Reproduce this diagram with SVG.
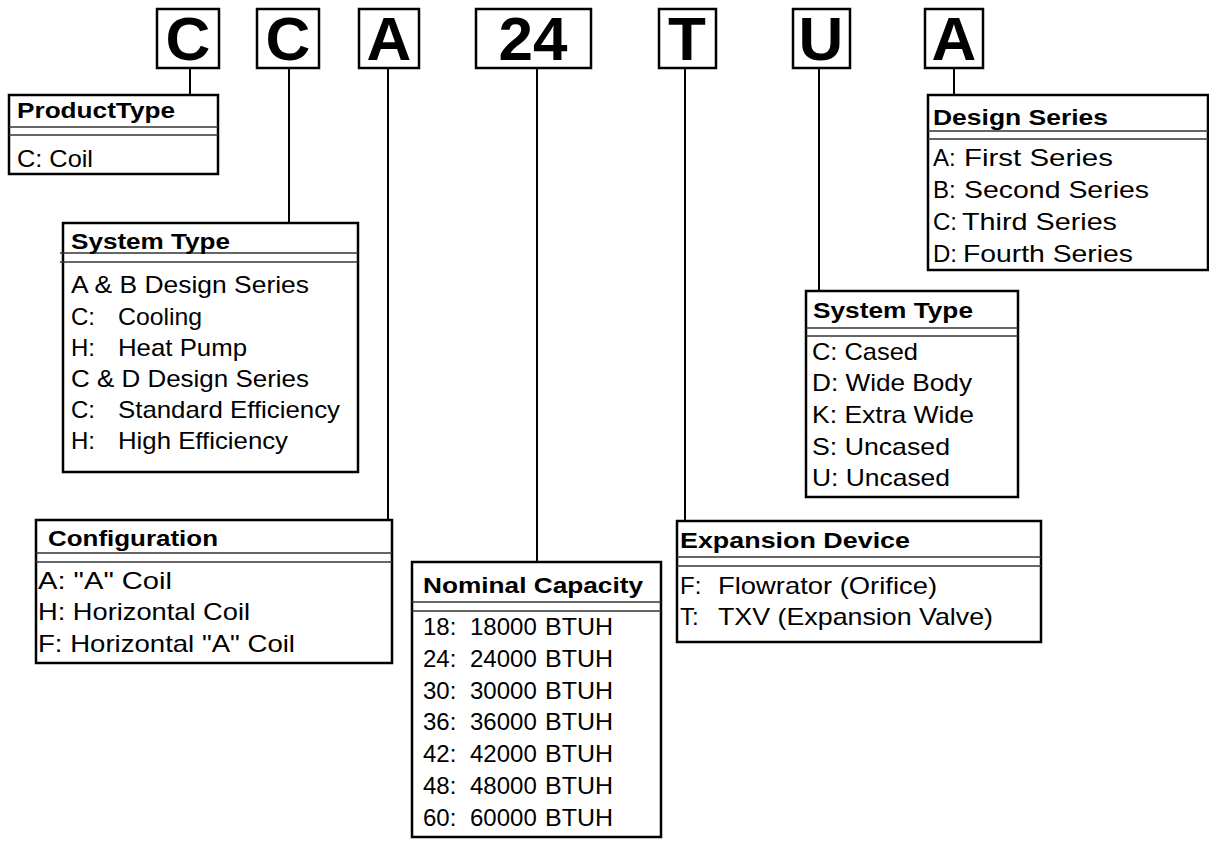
<svg xmlns="http://www.w3.org/2000/svg" width="1209" height="846" viewBox="0 0 1209 846">
<style>
.code{fill:#fff;stroke:#000;stroke-width:2.5}
.codetxt{font-family:"Liberation Sans",Arial,sans-serif;font-weight:bold;font-size:62px;fill:#000;text-anchor:middle}
.box{fill:#fff;stroke:#000;stroke-width:2.5}
.sep{stroke:#333;stroke-width:1.5;fill:none}
.title{font-family:"Liberation Sans",Arial,sans-serif;font-weight:bold;font-size:22px;fill:#000}
.body{font-family:"Liberation Sans",Arial,sans-serif;font-size:24px;fill:#000}
.conn{stroke:#000;stroke-width:2;fill:none}
</style>
<rect width="1209" height="846" fill="#fff"/>
<g id="connectors">
<line class="conn" x1="190" y1="68" x2="190" y2="95"/>
<line class="conn" x1="289" y1="68" x2="289" y2="223"/>
<line class="conn" x1="388" y1="68" x2="388" y2="520"/>
<line class="conn" x1="537" y1="68" x2="537" y2="562"/>
<line class="conn" x1="685" y1="68" x2="685" y2="521"/>
<line class="conn" x1="819" y1="68" x2="819" y2="291"/>
<line class="conn" x1="954" y1="68" x2="954" y2="95"/>
</g>
<g id="code-c1"><rect class="code" x="157" y="9" width="62" height="59"/><text class="codetxt" x="188" y="60">C</text></g>
<g id="code-c2"><rect class="code" x="257" y="9" width="62" height="59"/><text class="codetxt" x="288" y="60">C</text></g>
<g id="code-a1"><rect class="code" x="359" y="9" width="60" height="59"/><text class="codetxt" x="389" y="60">A</text></g>
<g id="code-24"><rect class="code" x="476" y="9" width="115" height="59"/><text class="codetxt" x="533" y="60">24</text></g>
<g id="code-t"><rect class="code" x="659" y="9" width="57" height="59"/><text class="codetxt" x="687" y="60">T</text></g>
<g id="code-u"><rect class="code" x="793" y="9" width="57" height="59"/><text class="codetxt" x="821" y="60">U</text></g>
<g id="code-a2"><rect class="code" x="925" y="9" width="58" height="59"/><text class="codetxt" x="954" y="60">A</text></g>

<g id="product-type">
<rect class="box" x="9" y="95" width="209" height="79"/>
<line class="sep" x1="9" y1="127" x2="218" y2="127"/><line class="sep" x1="9" y1="135" x2="218" y2="135"/>
<text class="title" x="17" y="118" textLength="158" lengthAdjust="spacingAndGlyphs">ProductType</text>
<text class="body" x="17" y="167" textLength="76" lengthAdjust="spacingAndGlyphs">C: Coil</text>
</g>

<g id="system-type-1">
<rect class="box" x="63" y="223" width="295" height="249"/>
<line class="sep" x1="60" y1="253" x2="358" y2="253"/><line class="sep" x1="60" y1="262" x2="358" y2="262"/>
<text class="title" x="71" y="249" textLength="159" lengthAdjust="spacingAndGlyphs">System Type</text>
<text class="body" x="71" y="293" textLength="238" lengthAdjust="spacingAndGlyphs">A &amp; B Design Series</text>
<text class="body" x="71" y="325">C:</text><text class="body" x="118" y="325" textLength="84" lengthAdjust="spacingAndGlyphs">Cooling</text>
<text class="body" x="71" y="356">H:</text><text class="body" x="118" y="356" textLength="129" lengthAdjust="spacingAndGlyphs">Heat Pump</text>
<text class="body" x="71" y="387" textLength="238" lengthAdjust="spacingAndGlyphs">C &amp; D Design Series</text>
<text class="body" x="71" y="418">C:</text><text class="body" x="118" y="418" textLength="222" lengthAdjust="spacingAndGlyphs">Standard Efficiency</text>
<text class="body" x="71" y="449">H:</text><text class="body" x="118" y="449" textLength="170" lengthAdjust="spacingAndGlyphs">High Efficiency</text>
</g>

<g id="configuration">
<rect class="box" x="36" y="520" width="356" height="143"/>
<line class="sep" x1="36" y1="553" x2="392" y2="553"/><line class="sep" x1="36" y1="562" x2="392" y2="562"/>
<text class="title" x="48" y="546" textLength="170" lengthAdjust="spacingAndGlyphs">Configuration</text>
<text class="body" x="38" y="589" textLength="134" lengthAdjust="spacingAndGlyphs">A: "A" Coil</text>
<text class="body" x="38" y="620" textLength="212" lengthAdjust="spacingAndGlyphs">H: Horizontal Coil</text>
<text class="body" x="38" y="652" textLength="257" lengthAdjust="spacingAndGlyphs">F: Horizontal "A" Coil</text>
</g>

<g id="nominal-capacity">
<rect class="box" x="412" y="562" width="249" height="275"/>
<line class="sep" x1="412" y1="602" x2="661" y2="602"/><line class="sep" x1="412" y1="611" x2="661" y2="611"/>
<text class="title" x="423" y="593" textLength="220" lengthAdjust="spacingAndGlyphs">Nominal Capacity</text>
<text class="body" x="423" y="635">18:</text><text class="body" x="470" y="635">18000</text><text class="body" x="545" y="635" textLength="68" lengthAdjust="spacingAndGlyphs">BTUH</text>
<text class="body" x="423" y="667">24:</text><text class="body" x="470" y="667">24000</text><text class="body" x="545" y="667" textLength="68" lengthAdjust="spacingAndGlyphs">BTUH</text>
<text class="body" x="423" y="699">30:</text><text class="body" x="470" y="699">30000</text><text class="body" x="545" y="699" textLength="68" lengthAdjust="spacingAndGlyphs">BTUH</text>
<text class="body" x="423" y="730">36:</text><text class="body" x="470" y="730">36000</text><text class="body" x="545" y="730" textLength="68" lengthAdjust="spacingAndGlyphs">BTUH</text>
<text class="body" x="423" y="762">42:</text><text class="body" x="470" y="762">42000</text><text class="body" x="545" y="762" textLength="68" lengthAdjust="spacingAndGlyphs">BTUH</text>
<text class="body" x="423" y="794">48:</text><text class="body" x="470" y="794">48000</text><text class="body" x="545" y="794" textLength="68" lengthAdjust="spacingAndGlyphs">BTUH</text>
<text class="body" x="423" y="826">60:</text><text class="body" x="470" y="826">60000</text><text class="body" x="545" y="826" textLength="68" lengthAdjust="spacingAndGlyphs">BTUH</text>
</g>

<g id="expansion-device">
<rect class="box" x="677" y="521" width="364" height="121"/>
<line class="sep" x1="677" y1="557" x2="1041" y2="557"/><line class="sep" x1="677" y1="566" x2="1041" y2="566"/>
<text class="title" x="680" y="548" textLength="230" lengthAdjust="spacingAndGlyphs">Expansion Device</text>
<text class="body" x="680" y="594">F:</text><text class="body" x="718" y="594" textLength="219" lengthAdjust="spacingAndGlyphs">Flowrator (Orifice)</text>
<text class="body" x="680" y="625">T:</text><text class="body" x="718" y="625" textLength="275" lengthAdjust="spacingAndGlyphs">TXV (Expansion Valve)</text>
</g>

<g id="system-type-2">
<rect class="box" x="806" y="291" width="212" height="206"/>
<line class="sep" x1="806" y1="328" x2="1018" y2="328"/><line class="sep" x1="806" y1="336" x2="1018" y2="336"/>
<text class="title" x="813" y="318" textLength="160" lengthAdjust="spacingAndGlyphs">System Type</text>
<text class="body" x="812" y="360" textLength="106" lengthAdjust="spacingAndGlyphs">C: Cased</text>
<text class="body" x="812" y="391" textLength="160" lengthAdjust="spacingAndGlyphs">D: Wide Body</text>
<text class="body" x="812" y="423" textLength="162" lengthAdjust="spacingAndGlyphs">K: Extra Wide</text>
<text class="body" x="812" y="455" textLength="138" lengthAdjust="spacingAndGlyphs">S: Uncased</text>
<text class="body" x="812" y="486" textLength="138" lengthAdjust="spacingAndGlyphs">U: Uncased</text>
</g>

<g id="design-series">
<rect class="box" x="928" y="95" width="280" height="175"/>
<line class="sep" x1="928" y1="131" x2="1208" y2="131"/><line class="sep" x1="928" y1="139" x2="1208" y2="139"/>
<text class="title" x="933" y="125" textLength="175" lengthAdjust="spacingAndGlyphs">Design Series</text>
<text class="body" x="933" y="166">A:</text><text class="body" x="964" y="166" textLength="149" lengthAdjust="spacingAndGlyphs">First Series</text>
<text class="body" x="933" y="198">B:</text><text class="body" x="964" y="198" textLength="185" lengthAdjust="spacingAndGlyphs">Second Series</text>
<text class="body" x="933" y="230">C:</text><text class="body" x="962" y="230" textLength="155" lengthAdjust="spacingAndGlyphs">Third Series</text>
<text class="body" x="933" y="262">D:</text><text class="body" x="963" y="262" textLength="170" lengthAdjust="spacingAndGlyphs">Fourth Series</text>
</g>
</svg>
